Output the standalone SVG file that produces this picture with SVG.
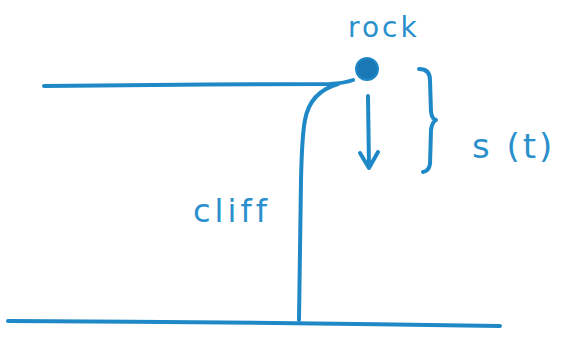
<svg xmlns="http://www.w3.org/2000/svg" width="571" height="339" viewBox="0 0 571 339">
<style>
.ink{fill:none;stroke:#1f88c6;stroke-width:4;stroke-linecap:round;stroke-linejoin:round}
.lbl{font-family:"DejaVu Sans","Liberation Sans",sans-serif;fill:#2a90cc}
</style>
<rect width="571" height="339" fill="#fff"/>
<g id="ground">
<path class="ink" d="M8,321 Q250,322 500,326"/>
</g>
<g id="clifftop">
<path class="ink" d="M44,86 Q200,84 330,84 Q345,83 353,80"/>
</g>
<g id="cliff">
<path class="ink" d="M299,320 L301,180 Q302,135 305,120 Q310,92 338,84"/>
<text class="lbl" x="193" y="222" font-size="32" letter-spacing="4">cliff</text>
</g>
<g id="rock">
<circle cx="367" cy="69" r="11" fill="#1a78b4" stroke="#1f88c6" stroke-width="2"/>
<text class="lbl" x="348" y="37" font-size="28" letter-spacing="3">rock</text>
</g>
<g id="connectors">
<path class="ink" d="M368,96 L369,168 M360,153 L369,168 L378,152"/>
</g>
<g id="distance">
<path class="ink" d="M419,69 Q430,69 430,80 L431,112 Q432,119 436,120 Q432,122 431,130 L430,164 Q429,171 423,172"/>
<text class="lbl" x="472" y="158" font-size="34" letter-spacing="3">s (t)</text>
</g>
</svg>
